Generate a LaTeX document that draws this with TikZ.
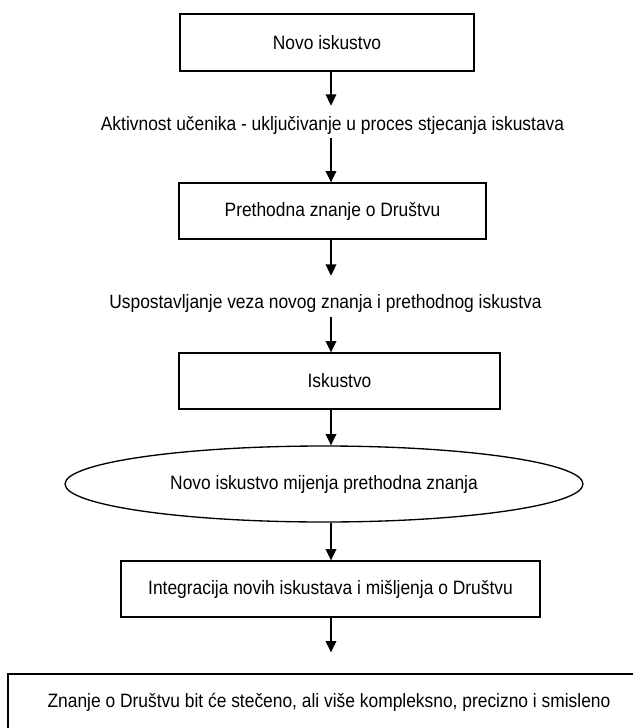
\documentclass[tikz,border=0pt]{standalone}
\usepackage{fontspec}
\setmainfont{Liberation Sans}[FakeStretch=0.9]
\usetikzlibrary{shapes.geometric,arrows.meta}

\begin{document}
\begin{tikzpicture}[x=0.75pt,y=-0.75pt,
    box/.style={draw,line width=1pt,inner sep=0pt},
    lbl/.style={inner sep=0pt},
    arr/.style={line width=1pt,-{Triangle[length=8.5pt,width=8pt]}},
    font=\fontsize{14.5}{17}\selectfont]

    \useasboundingbox (0,0) rectangle (632,728);
    \coordinate (ax) at (331,0);

    \node [box, minimum width=220.5pt, minimum height=42.75pt] (novo) at (327,42.5) {Novo iskustvo};

    \node [lbl] (aktivnost) at (332.5,125) {Aktivnost učenika - uključivanje u proces stjecanja iskustava};

    \node [box, minimum width=230.25pt, minimum height=42pt] (prethodna) at (332.5,211) {Prethodna znanje o Društvu};

    \node [lbl] (veze) at (325.5,303) {Uspostavljanje veza novog znanja i prethodnog iskustva};

    \node [box, minimum width=240.75pt, minimum height=42pt] (iskustvo) at (339.5,381) {Iskustvo};

    \node [box, ellipse, minimum width=388.5pt, minimum height=57pt] (mijenja) at (324,484) {Novo iskustvo mijenja prethodna znanja};

    \node [box, minimum width=314.25pt, minimum height=42pt] (integracija) at (330.5,589) {Integracija novih iskustava i mišljenja o Društvu};

    \node [box, minimum width=481.5pt, minimum height=42pt] (znanje) at (329,702) {Znanje o Društvu bit će stečeno, ali više kompleksno, precizno i smisleno};

    \draw [arr, shorten >=7.5pt] (novo.south -| ax) -- (aktivnost.north -| ax);
    \draw [arr, shorten <=3pt] (aktivnost.south -| ax) -- (prethodna.north -| ax);
    \draw [arr, shorten >=13.5pt] (prethodna.south -| ax) -- (veze.north -| ax);
    \draw [arr, shorten <=3.5pt] (veze.south -| ax) -- (iskustvo.north -| ax);
    \draw [arr] (iskustvo.south -| ax) -- (mijenja.north -| ax);
    \draw [arr] (mijenja.south -| ax) -- (integracija.north -| ax);
    \draw [arr, shorten >=15.75pt] (integracija.south -| ax) -- (znanje.north -| ax);

\end{tikzpicture}
\end{document}
